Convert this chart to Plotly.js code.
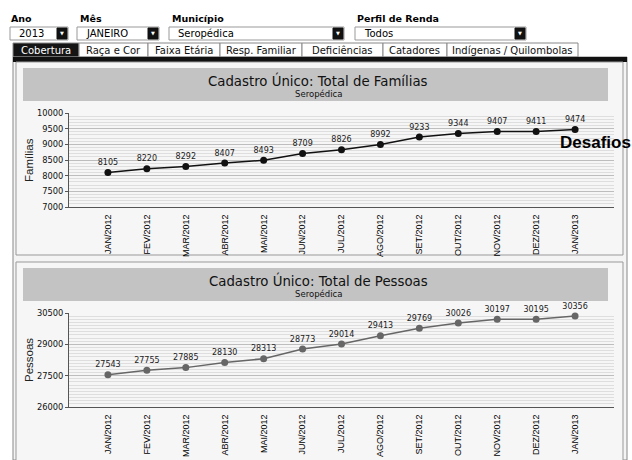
<!DOCTYPE html>
<html><head><meta charset="utf-8">
<script src="https://cdn.plot.ly/plotly-3.0.1.min.js"></script>
<style>html,body{margin:0;padding:0;background:#fff;}#c{width:632px;height:460px;}</style>
</head><body><div id="c"></div>
<script>
const meses = ['JAN/2012','FEV/2012','MAR/2012','ABR/2012','MAI/2012','JUN/2012','JUL/2012','AGO/2012','SET/2012','OUT/2012','NOV/2012','DEZ/2012','JAN/2013'];
const familias = [8105,8220,8292,8407,8493,8709,8826,8992,9233,9344,9407,9411,9474];
const pessoas = [27543,27755,27885,28130,28313,28773,29014,29413,29769,30026,30197,30195,30356];
const filtros = ['Ano','Mês','Município','Perfil de Renda'];
const filtroValores = ['2013','JANEIRO','Seropédica','Todos'];
const abas = ['Cobertura','Raça e Cor','Faixa Etária','Resp. Familiar','Deficiências','Catadores','Indígenas / Quilombolas'];

const W=632,H=460;
const px=x=>x/W, py=y=>1-y/H;
const shapes=[], ann=[];
function rect(x0,y0,x1,y1,fill,line,lw){shapes.push({type:'rect',xref:'paper',yref:'paper',x0:px(x0),x1:px(x1),y0:py(y1),y1:py(y0),fillcolor:fill,line:{color:line||fill,width:lw===undefined?1:lw},layer:'below'});}
function txt(x,y,t,size,color,anchor,family,extra){ann.push(Object.assign({xref:'paper',yref:'paper',x:px(x),y:py(y),text:t,showarrow:false,xanchor:anchor||'left',yanchor:'middle',font:{size:size,color:color||'#000',family:family||'DejaVu Sans'}},extra||{}));}

// filters
const fx=[9,78,170,355];
const boxes=[[10,68],[77,159],[169,344],[355,526]];
filtros.forEach((f,i)=>{
  txt(fx[i],19,'<b>'+f+'</b>',9.5,'#000');
  const b=boxes[i];
  rect(b[0],27,b[1],40,'#fff','#999',1);
  rect(b[1]-11,28,b[1]-1,39,'#111','#111',1);
  txt(b[1]-6,33.5,'▼',5,'#fff','center');
  txt(b[0]+7,33.5,filtroValores[i],10,'#000');
});
// tabs
const tabx=[13,79,148,220,302,383,447,578];
abas.forEach((a,i)=>{
  rect(tabx[i],43,tabx[i+1],57,i===0?'#151515':'#fff','#888',1);
  txt((tabx[i]+tabx[i+1])/2,50.5,a,10,i===0?'#fff':'#111','center');
});
// outer frame
rect(13,57,627,460,'#f4f4f4','#888',1);
rect(13,57,627,62,'#111','#111',0);
// panels
[[62,255],[262,462]].forEach(p=>{
  rect(16,p[0],623,p[1],'#f6f6f6','#999',1);
  rect(23,p[0]+6,608,p[0]+39,'#c3c3c3','#c3c3c3',0);
});
txt(318,80,'Cadastro Único: Total de Famílias',13.3,'#111','center');
txt(318,94,'Seropédica',8.5,'#111','center');
txt(318,280,'Cadastro Único: Total de Pessoas',13.3,'#111','center');
txt(318,294,'Seropédica',8.5,'#111','center');
txt(595,142,'<b>Desafios</b>',17,'#000','center','Liberation Sans');
txt(29,160,'Famílias',11.5,'#222','center','Liberation Sans',{textangle:-90});
txt(29,360,'Pessoas',11.5,'#222','center','Liberation Sans',{textangle:-90});

const lf={family:'DejaVu Sans',size:8,color:'#222'};
const traces=[
 {x:meses,y:familias,type:'scatter',mode:'lines+markers+text',text:familias.map(String),textposition:'top center',textfont:lf,line:{color:'#111',width:1.5},marker:{color:'#111',size:7},xaxis:'x',yaxis:'y',cliponaxis:false,hoverinfo:'none'},
 {x:meses,y:pessoas,type:'scatter',mode:'lines+markers+text',text:pessoas.map(String),textposition:'top center',textfont:lf,line:{color:'#666',width:1.5},marker:{color:'#666',size:7},xaxis:'x2',yaxis:'y2',cliponaxis:false,hoverinfo:'none'}
];
const xdom=[px(69),px(614)];
const xax=(anchor)=>({domain:xdom,anchor:anchor,type:'category',range:[-1,13],tickangle:-90,showgrid:false,showline:true,linecolor:'#555',linewidth:1,ticks:'',ticklabelstandoff:3,tickfont:{family:'Liberation Sans',size:9,color:'#000'},fixedrange:true});
const yax=(anchor,dom,r,d,m)=>({domain:dom,anchor:anchor,range:r,dtick:d,tick0:r[0],tickformat:'d',showline:true,linecolor:'#555',linewidth:1,ticks:'outside',ticklen:3,tickcolor:'#555',gridcolor:'#bdbdbd',gridwidth:1,minor:{dtick:m,tick0:r[0],showgrid:true,gridcolor:'#dedede',gridwidth:1},tickfont:{family:'DejaVu Sans',size:8.3,color:'#111'},zeroline:false,fixedrange:true});
const layout={
 width:W,height:H,margin:{l:0,r:0,t:0,b:0},paper_bgcolor:'#fff',plot_bgcolor:'#fbfbfb',showlegend:false,
 xaxis:xax('y'),xaxis2:xax('y2'),
 yaxis:yax('x',[py(207),py(113)],[7000,10000],500,100),
 yaxis2:yax('x2',[py(407),py(313)],[26000,30500],1500,150),
 shapes:shapes,annotations:ann
};
Plotly.newPlot('c',traces,layout,{staticPlot:true});
</script></body></html>
